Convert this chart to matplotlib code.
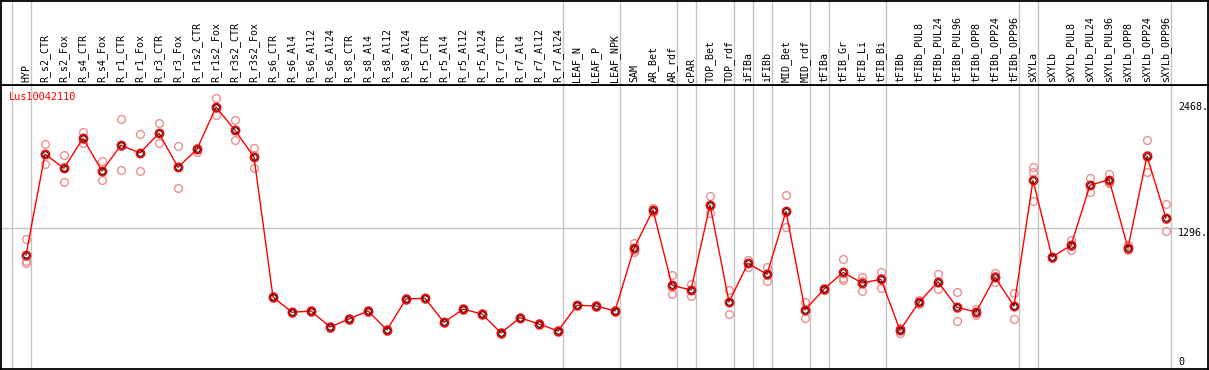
import matplotlib
matplotlib.use("Agg")
import matplotlib.pyplot as plt

title = "Lus10042110"

categories = ["HYP", "R_s2_CTR", "R_s2_Fox", "R_s4_CTR", "R_s4_Fox", "R_r1_CTR", "R_r1_Fox",
              "R_r3_CTR", "R_r3_Fox", "R_r1s2_CTR", "R_r1s2_Fox", "R_r3s2_CTR", "R_r3s2_Fox",
              "R_s6_CTR", "R_s6_Al4", "R_s6_Al12", "R_s6_Al24", "R_s8_CTR", "R_s8_Al4",
              "R_s8_Al12", "R_s8_Al24", "R_r5_CTR", "R_r5_Al4", "R_r5_Al12", "R_r5_Al24",
              "R_r7_CTR", "R_r7_Al4", "R_r7_Al12", "R_r7_Al24", "LEAF_N", "LEAF_P", "LEAF_NPK",
              "SAM", "AR_Bet", "AR_rdf", "cPAR", "TOP_Bet", "TOP_rdf", "iFIBa", "iFIBb",
              "MID_Bet", "MID_rdf", "tFIBa", "tFIB_Gr", "tFIB_Li", "tFIB_Bi", "tFIBb",
              "tFIBb_PUL8", "tFIBb_PUL24", "tFIBb_PUL96", "tFIBb_OPP8", "tFIBb_OPP24",
              "tFIBb_OPP96", "sXYLa", "sXYLb", "sXYLb_PUL8", "sXYLb_PUL24", "sXYLb_PUL96",
              "sXYLb_OPP8", "sXYLb_OPP24", "sXYLb_OPP96"]

means = [1035, 2013, 1875, 2165, 1849, 2098, 2023, 2214, 1885, 2059, 2468, 2243, 1984,
         629, 481, 494, 339, 416, 494, 310, 610, 616, 384, 512, 465, 281, 429, 368, 300,
         549, 542, 494, 1100, 1471, 742, 697, 1520, 581, 955, 849, 1458, 503, 705, 868,
         765, 800, 307, 578, 777, 529, 484, 820, 540, 1759, 1016, 1129, 1710, 1765, 1104,
         1994, 1391]

rep1 = [1190, 2107, 2001, 2223, 1943, 2349, 2204, 2311, 2088, 2075, 2553, 2340, 2068,
        636, 488, 500, 345, 422, 500, 316, 617, 622, 390, 518, 471, 287, 435, 374, 306,
        555, 548, 500, 1149, 1494, 842, 755, 1607, 697, 987, 916, 1617, 578, 715, 994,
        826, 868, 332, 600, 849, 674, 516, 858, 665, 1891, 1020, 1181, 1778, 1820, 1133,
        2146, 1527]
rep2 = [975, 1917, 1739, 2117, 1759, 1856, 1846, 2117, 1681, 2033, 2394, 2146, 1881,
        622, 474, 488, 333, 410, 488, 304, 603, 610, 378, 506, 459, 275, 423, 362, 294,
        543, 536, 488, 1068, 1455, 655, 639, 1439, 462, 916, 787, 1310, 423, 700, 794,
        684, 716, 278, 558, 710, 394, 458, 771, 413, 1842, 1010, 1081, 1643, 1730, 1084,
        1836, 1265]
rep3 = [955, 2015, 1885, 2155, 1845, 2089, 2019, 2214, 1886, 2069, 2457, 2243, 2003,
        629, 481, 494, 339, 416, 494, 310, 610, 616, 384, 512, 465, 281, 429, 368, 300,
        549, 542, 494, 1083, 1464, 729, 697, 1514, 584, 962, 844, 1447, 508, 700, 816,
        785, 816, 311, 576, 772, 519, 478, 831, 542, 1562, 1018, 1125, 1709, 1745, 1095,
        2000, 1381]

# group boundaries (after these category indices)
group_ends = [-1, 0, 28, 31, 34, 35, 37, 38, 39, 41, 42, 45, 52, 53, 60]

y_ticks = [0, 1296, 2468]
y_tick_labels = ["0", "1296.", "2468."]

W, H = 1209, 370
fig = plt.figure(figsize=(W / 100, H / 100), dpi=100)

def px_to_fig(x0, y0, x1, y1):
    return [x0 / W, 1 - y1 / H, (x1 - x0) / W, (y1 - y0) / H]

# pixel mapping: category i at 26 + 19*i ; value v at 362 - 0.10332*v
def xdata(px):
    return (px - 26) / 19.0

def ydata(py):
    return (362 - py) / 0.10332

ax = fig.add_axes(px_to_fig(1, 85, 1208, 369))
hx = fig.add_axes(px_to_fig(1, 0.5, 1208, 85))
for a in (ax, hx):
    a.set_xlim(xdata(1), xdata(1208))
    a.set_xticks([])
    a.set_yticks([])
    for s in a.spines.values():
        s.set_color("black")
        s.set_linewidth(1.3)
ax.set_ylim(ydata(369), ydata(85))
hx.set_ylim(0, 1)

grey = "#c4c4c4"
for g in group_ends:
    for a in (ax, hx):
        a.axvline(g + 0.24, color=grey, lw=1, zorder=0)

ax.plot([xdata(1), xdata(1178)], [1296, 1296], color=grey, lw=1, zorder=0)

mono = "DejaVu Sans Mono"
for i, lab in enumerate(categories):
    hx.text(i, 0.035, lab, rotation=90, ha="center", va="bottom",
            fontsize=7.2, family=mono, color="black")

x = list(range(len(categories)))
for reps in (rep1, rep2, rep3):
    ax.plot(x, reps, linestyle="none", marker="o", markersize=5.6, mfc="none",
            mec="#ec9090", mew=1.0, zorder=2)
ax.plot(x, means, color="#ff0000", lw=1.0, zorder=3)
ax.plot(x, means, linestyle="none", marker="o", markersize=6.0, mfc="none",
        mec="#ff0000", mew=1.1, zorder=4)
ax.plot(x, means, linestyle="none", marker="o", markersize=4.0, mfc="none",
        mec="black", mew=0.7, zorder=5)

ax.text(xdata(9), ydata(96.7), title, color="#ff0000", fontsize=7.4, family=mono,
        ha="left", va="center")

offsets = {0: 0, 1296: -43, 2468: 0}
for v, t in zip(y_ticks, y_tick_labels):
    ax.text(xdata(1178), v + offsets[v], t, fontsize=7.2, family=mono,
            ha="left", va="center", color="black")

fig.savefig("out.png", dpi=100)
